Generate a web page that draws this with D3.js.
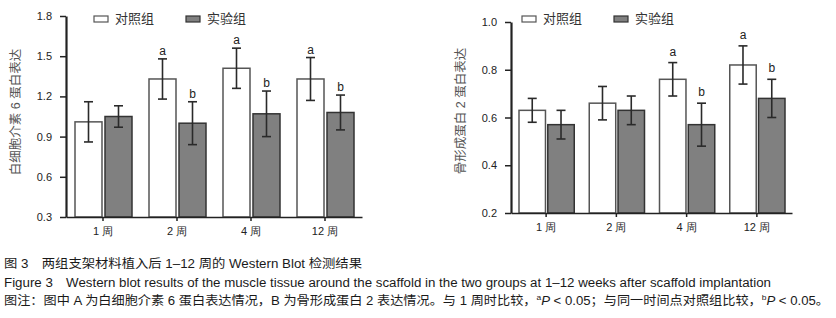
<!DOCTYPE html>
<html>
<head>
<meta charset="utf-8">
<script src="https://cdn.jsdelivr.net/npm/d3@7.9.0/dist/d3.min.js"></script>
<style>
  html, body { margin: 0; padding: 0; background: #fff; }
  svg { display: block; font-family: "Liberation Sans", Arial, "Noto Sans CJK SC", sans-serif; }
</style>
</head>
<body>
<svg id="chart" width="836" height="318"></svg>
<script>
// categories and groups
const weeks = ["1 周", "2 周", "4 周", "12 周"];
const groups = ["对照组", "实验组"];

// panel A: IL-6 protein expression
const il6Control   = [1.01, 1.33, 1.41, 1.33];
const il6ControlSd = [0.15, 0.15, 0.15, 0.16];
const il6Exp       = [1.05, 1.00, 1.07, 1.08];
const il6ExpSd     = [0.08, 0.16, 0.17, 0.13];
const il6Ticks     = [0.3, 0.6, 0.9, 1.2, 1.5, 1.8];
const il6MarkA     = ["", "a", "a", "a"];
const il6MarkB     = ["", "b", "b", "b"];

// panel B: BMP-2 protein expression
const bmpControl   = [0.63, 0.66, 0.76, 0.82];
const bmpControlSd = [0.05, 0.07, 0.07, 0.08];
const bmpExp       = [0.57, 0.63, 0.57, 0.68];
const bmpExpSd     = [0.06, 0.06, 0.09, 0.08];
const bmpTicks     = [0.2, 0.4, 0.6, 0.8, 1.0];
const bmpMarkA     = ["", "", "a", "a"];
const bmpMarkB     = ["", "", "b", "b"];

const captionLines = [
  "图 3　两组支架材料植入后 1–12 周的 Western Blot 检测结果",
  "Figure 3　Western blot results of the muscle tissue around the scaffold in the two groups at 1–12 weeks after scaffold implantation",
  "图注：图中 A 为白细胞介素 6 蛋白表达情况，B 为骨形成蛋白 2 表达情况。与 1 周时比较，"
];

const svg = d3.select("#chart");
const fills = ["#ffffff", "#808080"];
const strokes = ["#555555", "#333333"];

function drawPanel(p) {
  const g = svg.append("g");

  const x = d3.scaleBand().domain(weeks).range([p.left, p.right]).padding(0);
  const sub = d3.scaleBand().domain(groups)
    .range([p.groupInset, x.bandwidth() - p.groupInset + 1]).paddingInner(p.gap);
  const y = d3.scaleLinear().domain(p.domain).range([p.bottom, p.top]);

  const rows = weeks.flatMap((w, i) => [
    { week: w, group: groups[0], gi: 0, v: p.control[i], sd: p.controlSd[i], mark: p.markA[i] },
    { week: w, group: groups[1], gi: 1, v: p.exp[i], sd: p.expSd[i], mark: p.markB[i] }
  ]);

  // bars
  g.selectAll("rect.bar")
    .data(rows)
    .enter()
    .append("rect")
    .attr("class", "bar")
    .attr("x", d => x(d.week) + sub(d.group))
    .attr("width", sub.bandwidth())
    .attr("y", d => y(d.v))
    .attr("height", d => y(p.domain[0]) - y(d.v))
    .attr("fill", d => fills[d.gi])
    .attr("stroke", d => strokes[d.gi])
    .attr("stroke-width", 1.5);

  // error bars
  const cx = d => x(d.week) + sub(d.group) + sub.bandwidth() / 2;
  const err = g.selectAll("g.err").data(rows).enter().append("g")
    .attr("stroke", "#2a2a2a").attr("stroke-width", 1.6);
  err.append("line")
    .attr("x1", cx).attr("x2", cx)
    .attr("y1", d => y(d.v + d.sd)).attr("y2", d => y(d.v - d.sd));
  err.append("line")
    .attr("x1", d => cx(d) - 4.5).attr("x2", d => cx(d) + 4.5)
    .attr("y1", d => y(d.v + d.sd)).attr("y2", d => y(d.v + d.sd));
  err.append("line")
    .attr("x1", d => cx(d) - 4.5).attr("x2", d => cx(d) + 4.5)
    .attr("y1", d => y(d.v - d.sd)).attr("y2", d => y(d.v - d.sd));

  // significance letters
  g.selectAll("text.mark")
    .data(rows.filter(d => d.mark))
    .enter()
    .append("text")
    .attr("x", cx)
    .attr("y", d => y(d.v + d.sd) - p.markGap)
    .attr("text-anchor", "middle")
    .attr("font-size", 12)
    .attr("fill", "#222")
    .text(d => d.mark);

  // axes
  const xAxis = g.append("g")
    .attr("transform", `translate(0,${p.bottom})`)
    .call(d3.axisBottom(x).tickSize(4).tickSizeOuter(0).tickPadding(6));
  xAxis.select(".domain").attr("stroke", "#222").attr("stroke-width", 1.5);
  xAxis.selectAll(".tick line").attr("stroke", "#222").attr("stroke-width", 1.5);
  xAxis.selectAll(".tick text").attr("font-size", 11).attr("fill", "#222")
    .attr("font-family", "inherit");

  const yAxis = g.append("g")
    .attr("transform", `translate(${p.left},0)`)
    .call(d3.axisLeft(y).tickValues(p.ticks).tickFormat(d3.format(".1f"))
      .tickSize(6).tickSizeOuter(0).tickPadding(8));
  yAxis.select(".domain").attr("stroke", "#222").attr("stroke-width", 2.2);
  yAxis.selectAll(".tick line").attr("stroke", "#222").attr("stroke-width", 1.5);
  yAxis.selectAll(".tick text").attr("font-size", 11).attr("fill", "#222")
    .attr("font-family", "inherit");

  // y label
  g.append("text")
    .attr("transform", `translate(${p.labelX},${p.labelY}) rotate(-90)`)
    .attr("text-anchor", "middle")
    .attr("dominant-baseline", "middle")
    .attr("font-size", 12.5)
    .attr("fill", "#555")
    .text(p.label);

  // legend
  const leg = g.selectAll("g.leg").data(groups).enter().append("g")
    .attr("transform", (d, i) => `translate(${p.legendX[i]},${p.legendY})`);
  leg.append("rect")
    .attr("width", 14).attr("height", 6).attr("y", -3)
    .attr("fill", (d, i) => fills[i])
    .attr("stroke", (d, i) => strokes[i]).attr("stroke-width", 1.2);
  leg.append("text")
    .attr("x", 21).attr("y", 0.5)
    .attr("dominant-baseline", "middle")
    .attr("font-size", 13).attr("fill", "#333")
    .text(d => d);
}

drawPanel({
  left: 66, right: 362, top: 16, bottom: 217,
  domain: [0.3, 1.8], ticks: il6Ticks,
  groupInset: 9, gap: 0.1,
  control: il6Control, controlSd: il6ControlSd, exp: il6Exp, expSd: il6ExpSd,
  markA: il6MarkA, markB: il6MarkB, markGap: 4,
  label: "白细胞介素 6 蛋白表达", labelX: 17, labelY: 112,
  legendX: [94, 186], legendY: 19
});

drawPanel({
  left: 511, right: 792, top: 22, bottom: 213,
  domain: [0.2, 1.0], ticks: bmpTicks,
  groupInset: 8, gap: 0.08,
  control: bmpControl, controlSd: bmpControlSd, exp: bmpExp, expSd: bmpExpSd,
  markA: bmpMarkA, markB: bmpMarkB, markGap: 7,
  label: "骨形成蛋白 2 蛋白表达", labelX: 462, labelY: 111,
  legendX: [522, 614], legendY: 19
});

// caption
const cap = svg.append("g").attr("fill", "#1a1a1a").attr("font-size", 12.5);
cap.append("text").attr("x", 4).attr("y", 268)
  .attr("textLength", 358).attr("lengthAdjust", "spacingAndGlyphs")
  .text(captionLines[0]);
cap.append("text").attr("x", 4).attr("y", 287)
  .attr("textLength", 767).attr("lengthAdjust", "spacingAndGlyphs")
  .text(captionLines[1]);
const l3 = cap.append("text").attr("x", 4).attr("y", 305)
  .attr("textLength", 825).attr("lengthAdjust", "spacingAndGlyphs");
l3.append("tspan").text(captionLines[2]);
l3.append("tspan").attr("font-size", 8).attr("dy", -5).text("a");
l3.append("tspan").attr("font-style", "italic").attr("dy", 5).text("P");
l3.append("tspan").text(" < 0.05；与同一时间点对照组比较，");
l3.append("tspan").attr("font-size", 8).attr("dy", -5).text("b");
l3.append("tspan").attr("font-style", "italic").attr("dy", 5).text("P");
l3.append("tspan").text(" < 0.05。");
</script>
</body>
</html>
